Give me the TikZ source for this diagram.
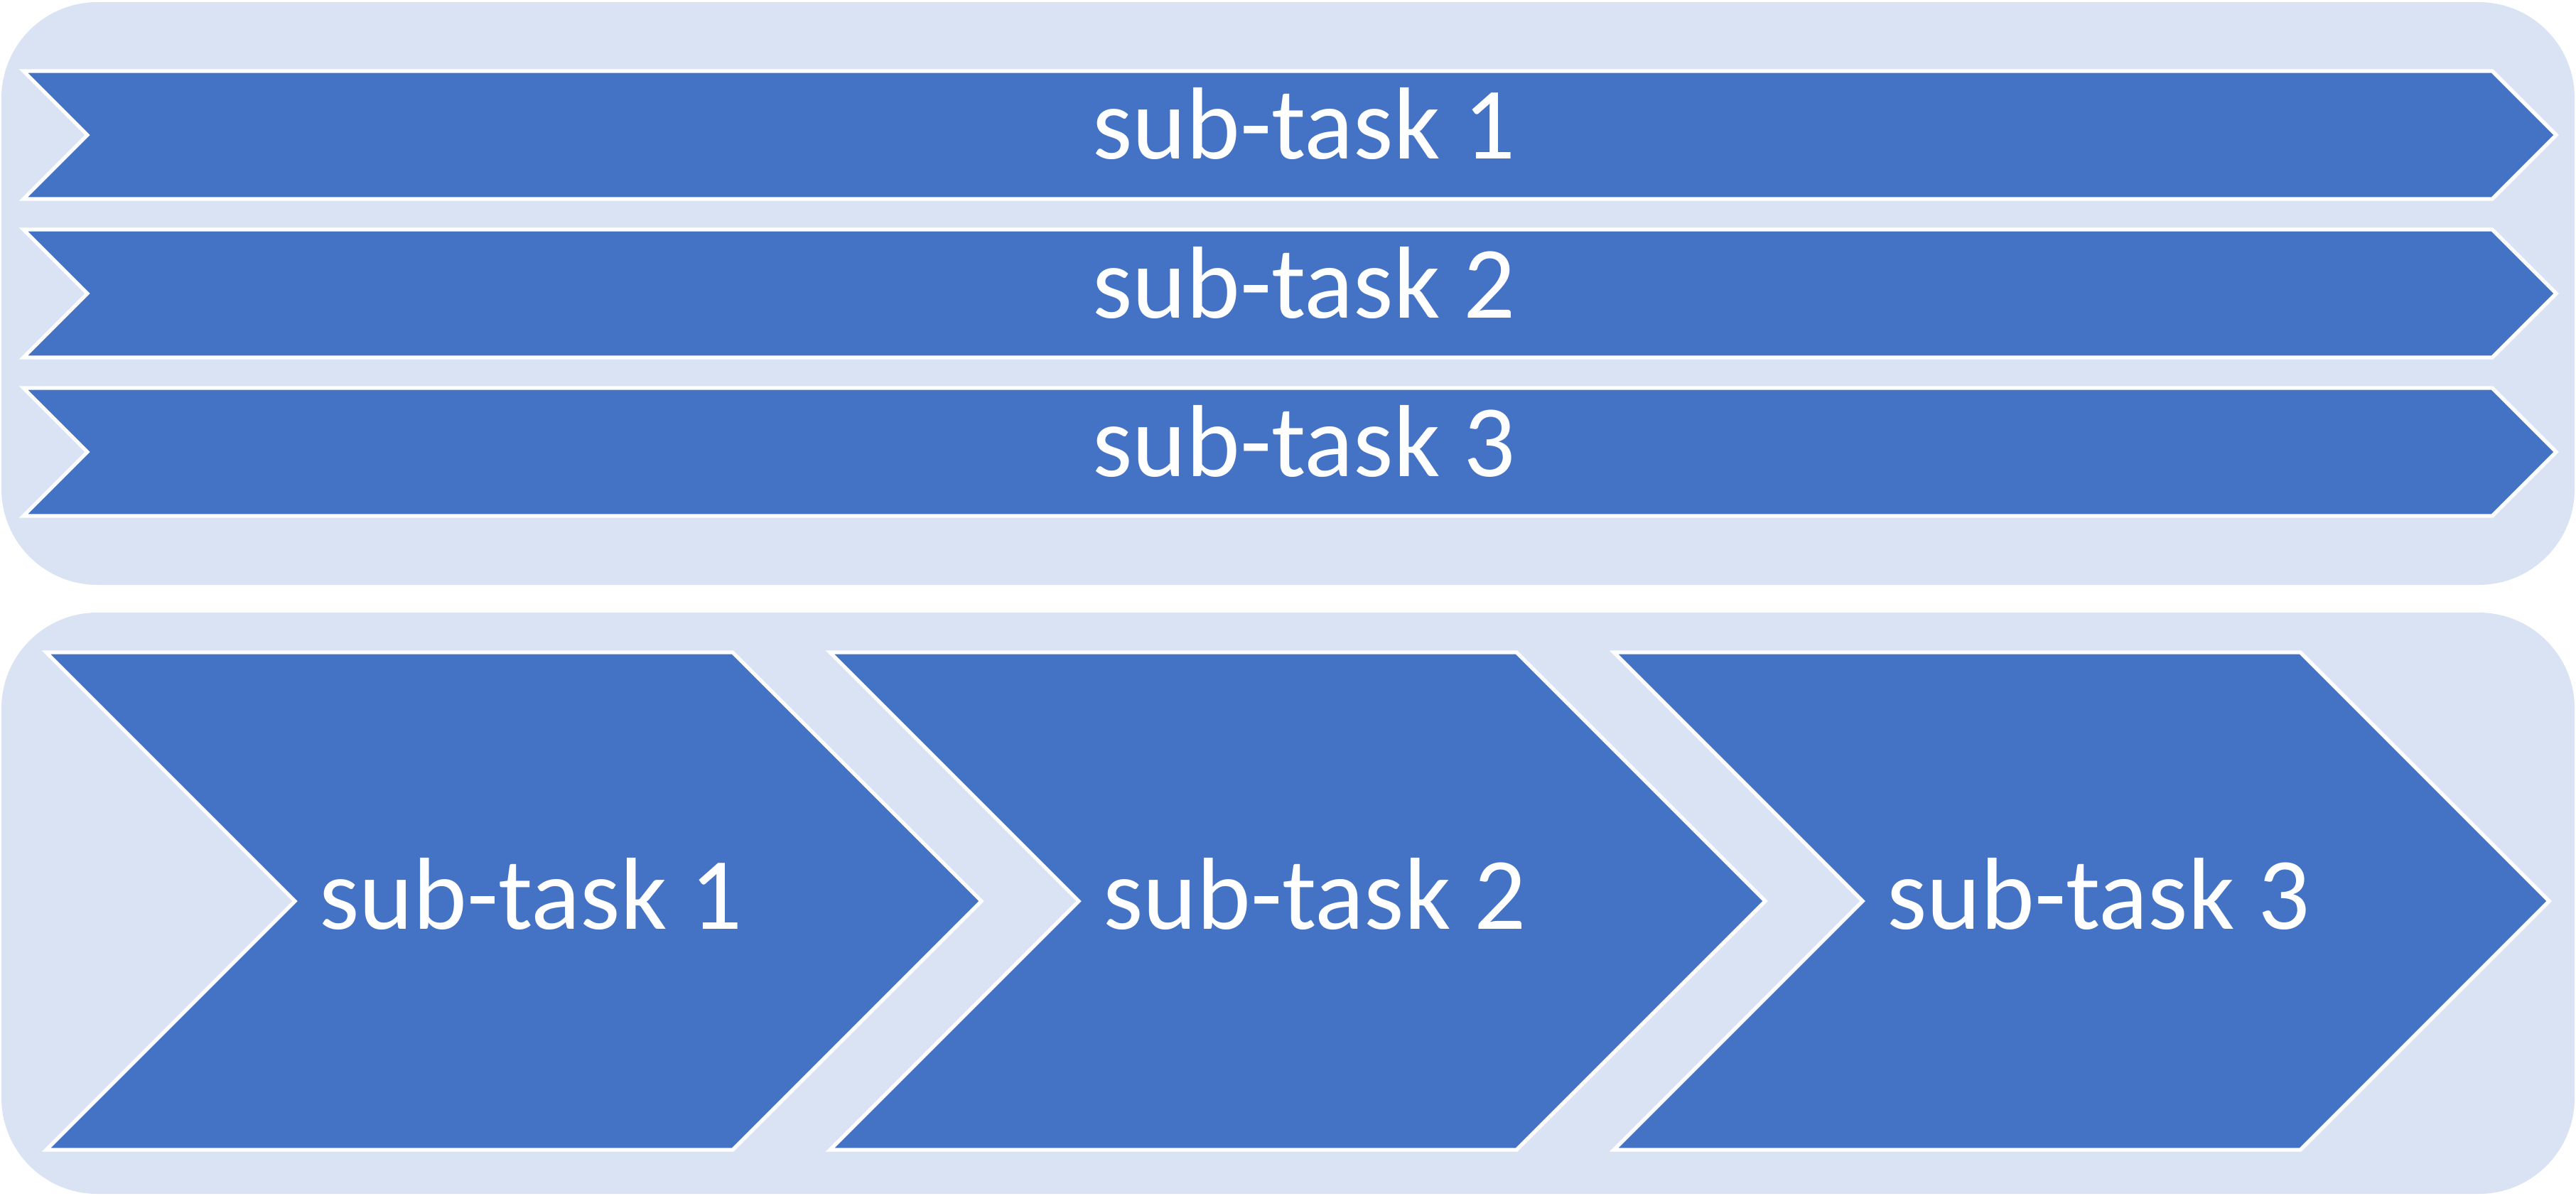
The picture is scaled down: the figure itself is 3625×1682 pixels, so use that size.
\documentclass[tikz,border=0pt]{standalone}
\usepackage{fontspec}
\setmainfont{Carlito}
\definecolor{panelblue}{HTML}{DAE3F3}
\definecolor{taskblue}{HTML}{4472C4}
\tikzset{
  panelbox/.style={fill=panelblue, rounded corners=1.35cm},
  taskarrow/.style={fill=taskblue, draw=white, line width=1.5pt, line join=miter},
  tasktext/.style={text=white, font=\fontsize{41}{49}\selectfont, anchor=base, inner sep=0pt}
}
\begin{document}
\begin{tikzpicture}[x=0.01cm,y=-0.01cm]
\useasboundingbox (0,0) rectangle (3625,1682);
% the two panels
\fill[panelbox] (2,3) rectangle (3623,823);
\fill[panelbox] (2,862) rectangle (3623,1680);
% top: one long arrow per row
\draw[taskarrow] (33,100) -- (3507,100) -- (3597,190) -- (3507,280) -- (33,280) -- (123,190) -- cycle;
\draw[taskarrow] (33,323) -- (3507,323) -- (3597,413) -- (3507,503) -- (33,503) -- (123,413) -- cycle;
\draw[taskarrow] (33,546) -- (3507,546) -- (3597,636) -- (3507,726) -- (33,726) -- (123,636) -- cycle;
\node[tasktext] (row1) at (1835,224) {sub-task 1};
\node[tasktext] (row2) at (1835,447) {sub-task 2};
\node[tasktext] (row3) at (1835,670) {sub-task 3};
% bottom: three chevrons side by side
\draw[taskarrow] (65,918) -- (1031,918) -- (1381,1268) -- (1031,1618) -- (65,1618) -- (415,1268) -- cycle;
\draw[taskarrow] (1168,918) -- (2134,918) -- (2484,1268) -- (2134,1618) -- (1168,1618) -- (1518,1268) -- cycle;
\draw[taskarrow] (2271,918) -- (3237,918) -- (3587,1268) -- (3237,1618) -- (2271,1618) -- (2621,1268) -- cycle;
\node[tasktext] (step1) at (747,1307) {sub-task 1};
\node[tasktext] (step2) at (1850,1307) {sub-task 2};
\node[tasktext] (step3) at (2953,1307) {sub-task 3};
\end{tikzpicture}
\end{document}
